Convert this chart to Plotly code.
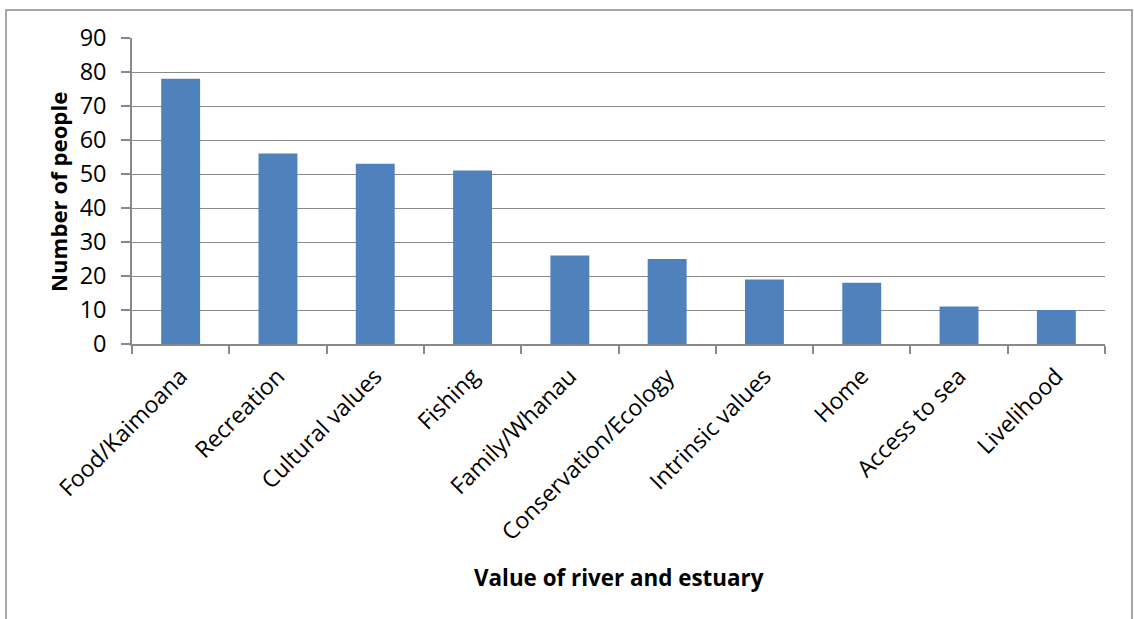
import plotly.graph_objects as go

categories = ["Food/Kaimoana", "Recreation", "Cultural values", "Fishing", "Family/Whanau",
              "Conservation/Ecology", "Intrinsic values", "Home", "Access to sea", "Livelihood"]
values = [78, 56, 53, 51, 26, 25, 19, 18, 11, 10]
y_ticks = [0, 10, 20, 30, 40, 50, 60, 70, 80, 90]

W, H = 1134, 619
L, R, T, B = 132, 1105, 38, 344
pw, ph = R - L, B - T

def px(x):
    return (x - L) / pw

def py(y):
    return (B - y) / ph

fig = go.Figure(go.Bar(x=categories, y=values, marker=dict(color="#4F81BD", line=dict(width=0)),
                       width=0.4))

font = "Open Sans, Lato, Liberation Sans, Arial, sans-serif"
fig.update_layout(
    width=W, height=H,
    margin=dict(l=L, r=W - R, t=T, b=H - B),
    paper_bgcolor="white", plot_bgcolor="white",
    showlegend=False,
    font=dict(family=font, color="black"),
    xaxis=dict(
        tickangle=-45, tickfont=dict(size=23, family=font),
        showline=True, linecolor="#898989", linewidth=1.5,
        ticks="outside", tickson="boundaries", ticklen=8, tickcolor="#898989", tickwidth=1.5,
        showgrid=False, ticklabelstandoff=8,
    ),
    yaxis=dict(
        range=[0, 90], tickvals=y_ticks, tickfont=dict(size=23.5, family=font),
        showline=True, linecolor="#898989", linewidth=1.5,
        ticks="outside", ticklen=9, tickcolor="#898989", tickwidth=1.5,
        showgrid=True, gridcolor="#898989", gridwidth=1.2,
        zeroline=False, ticklabelstandoff=10,
    ),
    shapes=[dict(type="rect", xref="paper", yref="paper",
                 x0=px(6), x1=px(1132), y0=py(640), y1=py(10),
                 line=dict(color="#8a8a8a", width=1.5), fillcolor="rgba(0,0,0,0)", layer="below")],
    annotations=[
        dict(text="<b>Value of river and estuary</b>", xref="paper", yref="paper",
             x=px(619), y=py(577), showarrow=False, font=dict(size=22.4, family=font),
             xanchor="center", yanchor="middle"),
        dict(text="<b>Number of people</b>", xref="paper", yref="paper",
             x=px(58), y=py(192), showarrow=False, font=dict(size=22.2, family=font),
             textangle=-90, xanchor="center", yanchor="middle"),
    ],
)

fig.write_html("out.html", config={"displayModeBar": False},
               post_script="document.body.style.margin='0';")
